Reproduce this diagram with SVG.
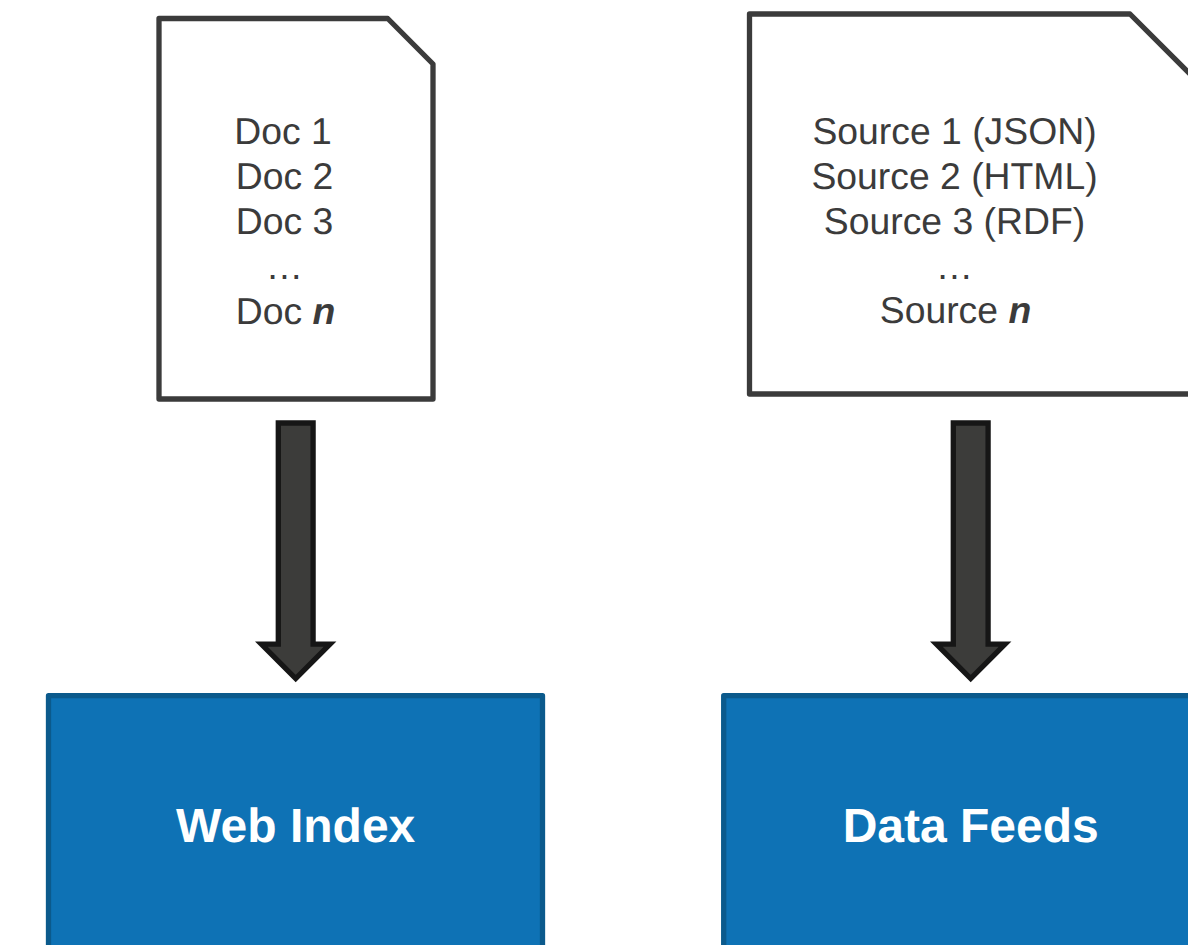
<svg xmlns="http://www.w3.org/2000/svg" width="1188" height="945" viewBox="0 0 1188 945">
<style>
.doc{fill:#fff;stroke:#3b3b3b;stroke-width:5.3;stroke-linejoin:round}
.box{fill:#0e72b5;stroke:#0b5a8c;stroke-width:5.3;stroke-linejoin:round}
.arrow{fill:#3c3c3a;stroke:#161616;stroke-width:5.3;stroke-linejoin:miter;stroke-miterlimit:10}
.t{font-family:"Liberation Sans",Arial,sans-serif;font-size:37.33px;fill:#3b3b3b;text-anchor:middle;text-rendering:geometricPrecision}
.t tspan.n{font-weight:bold;font-style:italic}
.h{font-family:"Liberation Sans",Arial,sans-serif;font-size:48px;font-weight:bold;fill:#fff;text-anchor:middle;text-rendering:geometricPrecision}
</style>
<g id="doc-list">
<path class="doc" d="M159 18.5H387.7L433 64V399H159Z"/>
<text class="t" x="283" y="144">Doc 1</text>
<text class="t" x="284.500" y="189">Doc 2</text>
<text class="t" x="284.500" y="234">Doc 3</text>
<text class="t" x="284.500" y="279">…</text>
<text class="t" x="285.500" y="324">Doc <tspan class="n">n</tspan></text>
</g>
<g id="source-list">
<path class="doc" d="M749.500 14H1130L1196 80V394H749.500Z"/>
<text class="t" x="954.500" y="144">Source 1 (JSON)</text>
<text class="t" x="954.500" y="189">Source 2 (HTML)</text>
<text class="t" x="954.500" y="234">Source 3 (RDF)</text>
<text class="t" x="954.500" y="279">…</text>
<text class="t" x="955.500" y="323">Source <tspan class="n">n</tspan></text>
</g>
<g id="connectors">
<path class="arrow" d="M278.300 423H313.100V644.200H330L295.700 678.500L261.400 644.200H278.300Z"/>
<path class="arrow" d="M953.300 423H988.100V644.200H1005L970.700 678.500L936.400 644.200H953.300Z"/>
</g>
<g id="web-index">
<rect class="box" x="48.500" y="695.700" width="494" height="270"/>
<text class="h" x="295.700" y="842">Web Index</text>
</g>
<g id="data-feeds">
<rect class="box" x="723.700" y="695.700" width="494" height="270"/>
<text class="h" x="970.700" y="842">Data Feeds</text>
</g>
</svg>
